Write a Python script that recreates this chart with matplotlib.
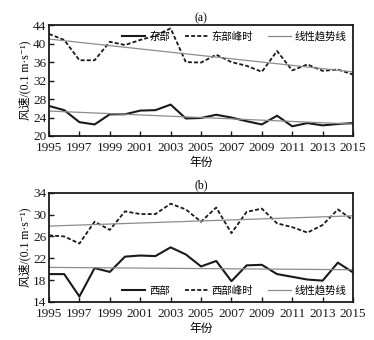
import numpy as np
import matplotlib
matplotlib.use('Agg')
import matplotlib.pyplot as plt

plt.rcParams['font.family'] = ['Liberation Serif', 'Noto Sans CJK SC', 'DejaVu Sans']

# Data section
years = np.arange(1995, 2016)

east = [26.5, 25.6, 23.0, 22.5, 24.7, 24.7, 25.5, 25.6, 26.8, 23.8, 23.9,
        24.6, 24.0, 23.2, 22.5, 24.4, 22.1, 22.8, 22.3, 22.6, 22.8]
east_peak = [42.1, 40.8, 36.4, 36.4, 40.4, 39.7, 40.8, 41.7, 43.3, 36.0, 35.9,
             37.6, 36.0, 35.2, 33.9, 38.4, 34.2, 35.5, 34.1, 34.4, 33.3]

west = [19.1, 19.1, 15.0, 20.2, 19.5, 22.3, 22.5, 22.4, 24.0, 22.7, 20.5,
        21.5, 17.8, 20.7, 20.8, 19.1, 18.6, 18.1, 17.9, 21.2, 19.4]
west_peak = [26.2, 26.0, 24.7, 28.7, 27.2, 30.6, 30.1, 30.1, 32.0, 30.95, 28.7,
             31.3, 26.6, 30.5, 31.1, 28.4, 27.7, 26.7, 28.1, 30.95, 29.0]

x_ticks = list(range(1995, 2016, 2))
cjk = ['Noto Sans CJK SC', 'DejaVu Sans']
mixed = ['Liberation Serif', 'Noto Sans CJK SC', 'DejaVu Sans']


def trend(values):
    k, b = np.polyfit(years, values, 1)
    return k * years + b


def draw_panel(ax, base, peak, names, yticks, title, legend_loc):
    ax.plot(years, base, color='#1a1a1a', linewidth=1.5, label=names[0])
    ax.plot(years, peak, color='#1a1a1a', linewidth=1.3, linestyle=(0, (2.2, 1.2)),
            label=names[1])
    ax.plot(years, trend(base), color='#8c8c8c', linewidth=0.9, label='线性趋势线')
    ax.plot(years, trend(peak), color='#8c8c8c', linewidth=0.9)

    ax.set_xlim(1995, 2015)
    ax.set_ylim(yticks[0], yticks[-1])
    ax.set_xticks(x_ticks)
    ax.set_yticks(yticks)
    ax.tick_params(direction='in', length=3.5, width=1.0, labelsize=9.5, pad=2,
                   colors='#1a1a1a')
    ax.tick_params(axis='x', pad=4.5)
    for sp in ax.spines.values():
        sp.set_linewidth(1.3)
        sp.set_color('#1a1a1a')

    ax.set_title(title, fontsize=8.5, pad=3)
    ax.set_xlabel('年份', family=cjk, fontsize=8.5, labelpad=1)
    ax.set_ylabel('风速/(0.1 m·s⁻¹)', family=mixed, fontsize=8.5, labelpad=1)
    leg = ax.legend(loc=legend_loc, ncol=3, frameon=False, handlelength=2.2,
                    columnspacing=1.4, handletextpad=0.4, borderaxespad=0.2,
                    prop={'family': cjk, 'size': 7.5})
    return leg


fig = plt.figure(figsize=(3.74, 3.40), dpi=100)
ax1 = fig.add_axes([0.131, 0.600, 0.813, 0.326])
ax2 = fig.add_axes([0.131, 0.112, 0.813, 0.321])

draw_panel(ax1, east, east_peak, ['东部', '东部峰时'], [20, 24, 28, 32, 36, 40, 44],
           '(a)', 'upper right')
draw_panel(ax2, west, west_peak, ['西部', '西部峰时'], [14, 18, 22, 26, 30, 34],
           '(b)', 'lower right')

fig.savefig('out.png', dpi=100)
plt.close()
